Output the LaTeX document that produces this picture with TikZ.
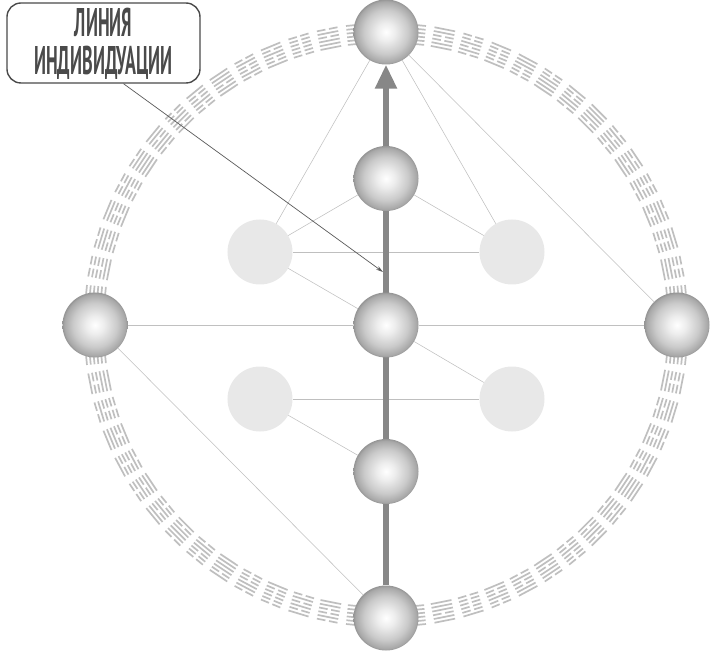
\documentclass[tikz,border=0pt]{standalone}
\usepackage{graphicx}
\usepackage{fontspec}
\newfontfamily\notefont{PT Sans}
\newcommand\squeeze[1]{\scalebox{0.45}[1]{#1}}
\usetikzlibrary{arrows.meta,backgrounds}

\definecolor{ballhigh}{HTML}{EDEDED}
\definecolor{ballmid}{HTML}{CACACA}
\definecolor{ballrim}{HTML}{A8A8A8}
\definecolor{balledge}{HTML}{959595}
\definecolor{palegray}{HTML}{E8E8E8}
\definecolor{linkgray}{HTML}{C0C0C0}
\definecolor{axisgray}{HTML}{878787}
\definecolor{inkgray}{HTML}{4A4A4A}

\pgfdeclareradialshading{sphere}{\pgfpoint{0bp}{0bp}}{color(0bp)=(white); color(7bp)=(ballhigh); color(17bp)=(ballmid); color(23.5bp)=(ballrim); color(25bp)=(balledge); color(50bp)=(balledge)}

\begin{document}
\begin{tikzpicture}[x=1pt,y=1pt,
  ball/.style={circle,minimum size=65pt,inner sep=0pt,shading=sphere},
  ghost/.style={circle,minimum size=65pt,inner sep=0pt,fill=palegray},
  link/.style={draw=linkgray,line width=0.55pt},
  hexline/.style={draw=gray!50,line width=1.7pt}]

\useasboundingbox (-386,-328) rectangle (326,325);

% spheres on the axis
\node[ball] (top) at (90:293) {};
\node[ball] (upper) at (0,146.5) {};
\node[ball] (center) at (0,0) {};
\node[ball] (lower) at (0,-146.5) {};
\node[ball] (bottom) at (270:293) {};
\node[ball] (left) at (180:291) {};
\node[ball] (right) at (0:291) {};

% pale side spheres
\node[ghost] (ul) at (-126,73) {};
\node[ghost] (ur) at (126,73) {};
\node[ghost] (ll) at (-126,-74) {};
\node[ghost] (lr) at (126,-74) {};

\begin{scope}[on background layer]
% ring of hexagrams
\foreach \k in {0,...,63}{
  \pgfmathsetmacro\ang{90-\k*5.625}
  \pgfmathtruncatemacro\hex{mod(\k*23+5,64)}
  \begin{scope}[shift={(\ang:292)},rotate=\ang-90]
  \foreach \j in {0,...,5}{
    \pgfmathtruncatemacro\bit{mod(floor(\hex/2^\j),2)}
    \pgfmathsetmacro\yy{-9.5+\j*3.8}
    \ifnum\bit=1
      \draw[hexline] (-10.5,\yy) -- (10.5,\yy);
    \else
      \draw[hexline] (-10.5,\yy) -- (-1.8,\yy) (1.8,\yy) -- (10.5,\yy);
    \fi
  }
  \end{scope}
}

\draw[link] (top) -- (ul);
\draw[link] (top) -- (ur);
\draw[link] (top) -- (right);
\draw[link] (upper) -- (ul);
\draw[link] (upper) -- (ur);
\draw[link,draw=gray!50] (ul) -- (ur);
\draw[link] (ul) -- (center);
\draw[link] (center) -- (lr);
\draw[link,draw=gray!50] (ll) -- (lr);
\draw[link] (ll) -- (lower);
\draw[link] (left) -- (center) -- (right);
\draw[link] (left) -- (bottom);

% line of individuation
\draw[axisgray,line width=5.5pt,-{Triangle[length=24pt,width=21pt]}] (bottom) -- (top.south);
\end{scope}

% callout
\node[draw=inkgray,line width=1.4pt,rounded corners=14pt,minimum width=193pt,minimum height=80pt,
  align=center,text=inkgray,font=\notefont\bfseries\fontsize{40}{38}\selectfont] (note) at (-282.5,282)
  {\rule{0pt}{30pt}\squeeze{ЛИНИЯ}\\\squeeze{ИНДИВИДУАЦИИ}};
\coordinate (tip) at (-3,53);
\draw[gray!70!black,line width=0.7pt,-{Stealth[length=7pt,width=4pt]}] ([xshift=20pt]note.south) -- (tip);

\end{tikzpicture}
\end{document}
